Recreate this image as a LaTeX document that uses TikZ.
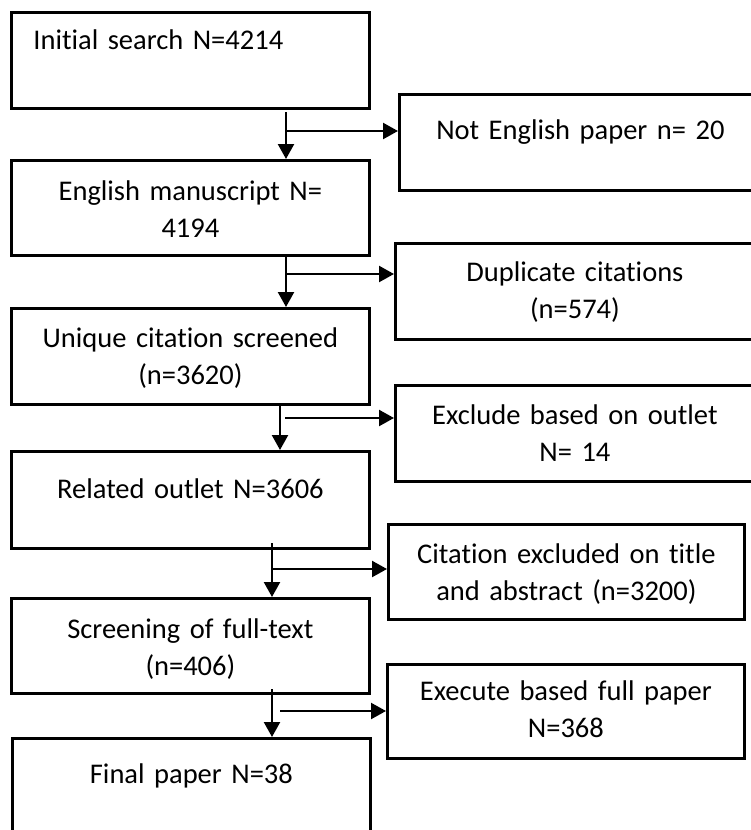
\documentclass[tikz,border=0pt]{standalone}
\usepackage{fontspec}
\setmainfont[Ligatures=NoCommon]{Carlito}
\usepackage{tikz}
\usetikzlibrary{arrows.meta,calc,positioning}

\tikzset{
  stage/.style={draw, rectangle, line width=2.8pt, anchor=north west,
                inner sep=0pt, align=center,
                font=\fontsize{28.5}{37}\selectfont},
  flow/.style={line width=2.3pt}
}

\begin{document}
\begin{tikzpicture}[x=1pt,y=-1pt,->,>={Triangle[length=15pt,width=16pt]},flow]

  \useasboundingbox (0,0) rectangle (751,830);

  % main column
  \node[stage, align=left, inner xsep=22pt, text width=314pt,
        text height=37pt, text depth=59pt] (1) at (10,11) {Initial search N=4214};
  \node[stage, text width=358pt, text height=40pt, text depth=55pt] (2) at (10,159)
        {English manuscript N=\\4194};
  \node[stage, text width=358pt, text height=39pt, text depth=57pt] (3) at (10,307)
        {Unique citation screened\\(n=3620)};
  \node[stage, text width=358pt, text height=47pt, text depth=50pt] (4) at (10,450)
        {Related outlet N=3606};
  \node[stage, text width=358pt, text height=40pt, text depth=55pt] (5) at (10,597)
        {Screening of full-text\\(n=406)};
  \node[stage, text width=358pt, text height=45pt, text depth=58pt] (6) at (11,737)
        {Final paper N=38};

  % excluded records
  \node[stage, text width=362pt, text height=45pt, text depth=51pt] (x1) at (398,93)
        {Not English paper n= 20};
  \node[stage, text width=359pt, text height=38pt, text depth=58pt] (x2) at (394,242)
        {Duplicate citations\\(n=574)};
  \node[stage, text width=359pt, text height=39pt, text depth=57pt] (x3) at (394,384)
        {Exclude based on outlet\\N= 14};
  \node[stage, text width=356pt, text height=39pt, text depth=56pt] (x4) at (387,523)
        {Citation excluded on title\\and abstract (n=3200)};
  \node[stage, text width=357pt, text height=36pt, text depth=58pt] (x5) at (386,663)
        {Execute based full paper\\N=368};

  \coordinate (a1) at (286,112);
  \coordinate (a2) at (286,254);
  \coordinate (a3) at (280,403);
  \coordinate (a4) at (272,543);
  \coordinate (a5) at (272,689);

  \coordinate (j1) at (286,131);
  \coordinate (j2) at (286,274);
  \coordinate (j3) at (285,418);
  \coordinate (j4) at (272,569);
  \coordinate (j5) at (280,711);

  \begin{scope}
    \path (a1) edge (a1 |- 2.north)
          (j1) edge (j1 -| x1.west)
          (a2) edge (a2 |- 3.north)
          (j2) edge (j2 -| x2.west)
          (a3) edge (a3 |- 4.north)
          (j3) edge (j3 -| x3.west)
          (a4) edge (a4 |- 5.north)
          (j4) edge (j4 -| x4.west)
          (a5) edge (a5 |- 6.north)
          (j5) edge (j5 -| x5.west);
  \end{scope}
\end{tikzpicture}
\end{document}
